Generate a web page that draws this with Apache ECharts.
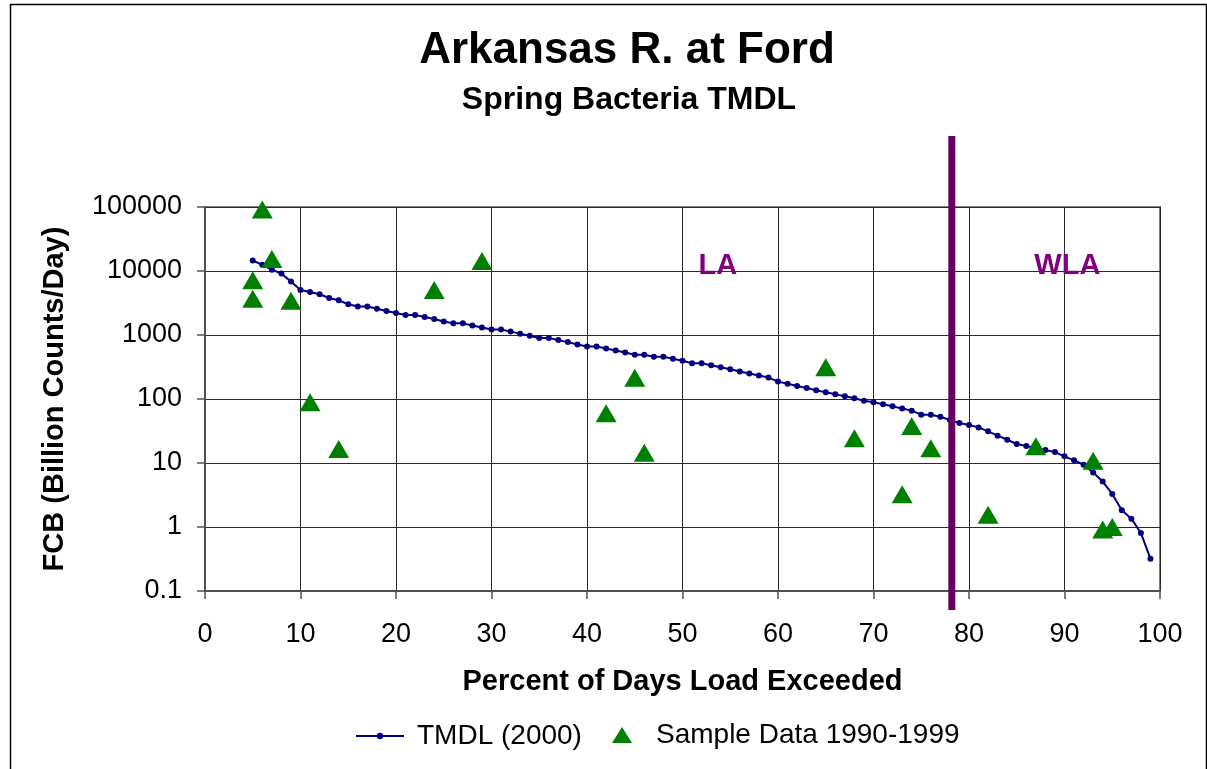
<!DOCTYPE html>
<html>
<head>
<meta charset="utf-8">
<script src="https://cdn.jsdelivr.net/npm/echarts@6/dist/echarts.min.js"></script>
<style>
html,body{margin:0;padding:0;background:#fff;}
#chart{width:1207px;height:769px;}
</style>
</head>
<body>
<div id="chart"></div>
<script>
// TMDL curve: percent of days exceeded vs load
var tmdlPct = [5,6,7,8,9,10,11,12,13,14,15,16,17,18,19,20,21,22,23,24,25,26,27,28,29,30,
  31,32,33,34,35,36,37,38,39,40,41,42,43,44,45,46,47,48,49,50,51,52,53,54,55,56,57,58,59,60,
  61,62,63,64,65,66,67,68,69,70,71,72,73,74,75,76,77,78,79,80,81,82,83,84,85,86,87,88,89,90,
  91,92,93,94,95,96,97,98,99];
var tmdlLoad = [14600,12500,10500,9100,6840,5060,4700,4330,3790,3480,3020,2780,2780,2580,2370,2200,
  2050,2050,1910,1780,1630,1520,1520,1410,1310,1220,1220,1130,1050,975,900,895,832,774,712,662,
  662,617,574,534,491,491,457,457,425,395,363,363,337,314,292,269,250,233,216,187,173,160,149,
  137,127,119,110,103,94,88.7,82.6,76.9,70.8,65.8,56.9,56.9,52.9,47,42.2,39.3,36,31.2,26.7,23.1,
  19.8,18.4,17.1,15.9,14.8,12.7,11.0,9.38,7.1,5.13,3.29,1.83,1.35,0.805,0.32];

// sample data 1990-1999
var samplePct  = [5,5,6,7,9,11,14,24,29,42,45,46,65,68,73,74,76,82,87,93,94,95];
var sampleLoad = [7200,3700,91000,15400,3440,89,16.6,5050,14300,60,215,14.5,313,24.3,3.24,38,17,1.55,18.3,10.8,0.91,1.0];

// LA / WLA boundary and region labels
var boundaryPct = [78.2];
var regionNames = ['LA','WLA'];
var regionPct = [53.7, 90.3];
var regionLoad = [12000, 12000];

var xTicks = [0,10,20,30,40,50,60,70,80,90,100];
var yTicks = [0.1,1,10,100,1000,10000,100000];

var FONT = '"Liberation Sans", Arial, sans-serif';
var chart = echarts.init(document.getElementById('chart'));

var tmdlData = tmdlPct.map(function(p,i){ return [p, tmdlLoad[i]]; });
var sampleData = samplePct.map(function(p,i){ return [p, sampleLoad[i]]; });
var regionData = regionNames.map(function(n,i){ return [regionPct[i], regionLoad[i], n]; });

var option = {
  animation:false,
  backgroundColor:'#fff',
  title:[
    {text:'Arkansas R. at Ford', left:627, top:29, padding:0, textAlign:'center',
     textStyle:{fontFamily:FONT, fontSize:44, fontWeight:'bold', color:'#000'}},
    {text:'Spring Bacteria TMDL', left:629, top:84, padding:0, textAlign:'center',
     textStyle:{fontFamily:FONT, fontSize:32, fontWeight:'bold', color:'#000'}}
  ],
  graphic:[
    {type:'rect', left:8, top:2, silent:true,
     shape:{width:1196, height:800}, style:{fill:'none', stroke:'#000', lineWidth:1.5}}
  ],
  legend:[
    {data:[{name:'TMDL (2000)', itemStyle:{borderWidth:0}}], left:355, top:722, padding:0,
     itemWidth:48, itemHeight:8,
     textStyle:{fontFamily:FONT, fontSize:28, color:'#000', padding:[0,0,0,8]}},
    {data:[{name:'Sample Data 1990-1999', icon:'triangle'}], left:612, top:721, padding:0,
     itemWidth:20, itemHeight:16,
     textStyle:{fontFamily:FONT, fontSize:28, color:'#000', padding:[0,0,0,19]}}
  ],
  grid:{left:205, right:47, top:207, bottom:178, show:true, borderColor:'#808080', borderWidth:2},
  xAxis:{
    type:'value', min:xTicks[0], max:xTicks[xTicks.length-1], interval:10,
    name:'Percent of Days Load Exceeded', nameLocation:'middle', nameGap:76,
    nameTextStyle:{fontFamily:FONT, fontSize:29, fontWeight:'bold', color:'#000'},
    axisLine:{lineStyle:{color:'#505050', width:2}},
    axisTick:{show:true, inside:false, length:8, lineStyle:{color:'#505050', width:1.5}},
    axisLabel:{margin:30, fontFamily:FONT, fontSize:27, color:'#000'},
    splitLine:{show:true, lineStyle:{color:'#2a2a2a', width:1}}
  },
  yAxis:{
    type:'log', logBase:10, min:yTicks[0], max:yTicks[yTicks.length-1], splitNumber:6,
    name:'FCB (Billion Counts/Day)', nameLocation:'middle', nameGap:136,
    nameTextStyle:{fontFamily:FONT, fontSize:29, fontWeight:'bold', color:'#000'},
    axisLine:{show:true, lineStyle:{color:'#505050', width:2}},
    axisTick:{show:true, inside:false, length:8, lineStyle:{color:'#505050', width:1.5}},
    axisLabel:{margin:23, fontFamily:FONT, fontSize:27, color:'#000',
      formatter:function(v){ return v < 1 ? v.toFixed(1) : String(Math.round(v)); }},
    splitLine:{show:true, lineStyle:{color:'#2a2a2a', width:1}},
    minorTick:{show:false}, minorSplitLine:{show:false}
  },
  series:[
    {
      name:'TMDL (2000)', type:'line', data:tmdlData, z:3,
      symbol:'circle', symbolSize:6, showSymbol:true,
      lineStyle:{color:'#000080', width:2},
      itemStyle:{color:'#000080'}
    },
    {
      name:'Sample Data 1990-1999', type:'scatter', data:sampleData, z:4,
      symbol:'triangle', symbolSize:[21,18],
      itemStyle:{color:'#008000', opacity:1}
    },
    {
      name:'boundary', type:'custom', z:5, clip:false,
      data:boundaryPct.map(function(p){ return [p, yTicks[yTicks.length-1]]; }),
      renderItem:function(params, api){
        var top = api.coord([api.value(0), yTicks[yTicks.length-1]]);
        var bot = api.coord([api.value(0), yTicks[0]]);
        return {type:'rect',
          shape:{x:top[0]-3.5, y:top[1]-71, width:7, height:(bot[1]-top[1])+71+19},
          style:{fill:'#660066'}};
      }
    },
    {
      name:'regions', type:'scatter', data:regionData, z:6,
      symbolSize:0, silent:true, itemStyle:{opacity:1},
      label:{show:true, position:'inside', formatter:function(p){ return p.value[2]; },
        fontFamily:FONT, fontSize:29, fontWeight:'bold', color:'#800080',
        textBorderWidth:0, textBorderColor:'transparent'}
    }
  ]
};
chart.setOption(option);
</script>
</body>
</html>
